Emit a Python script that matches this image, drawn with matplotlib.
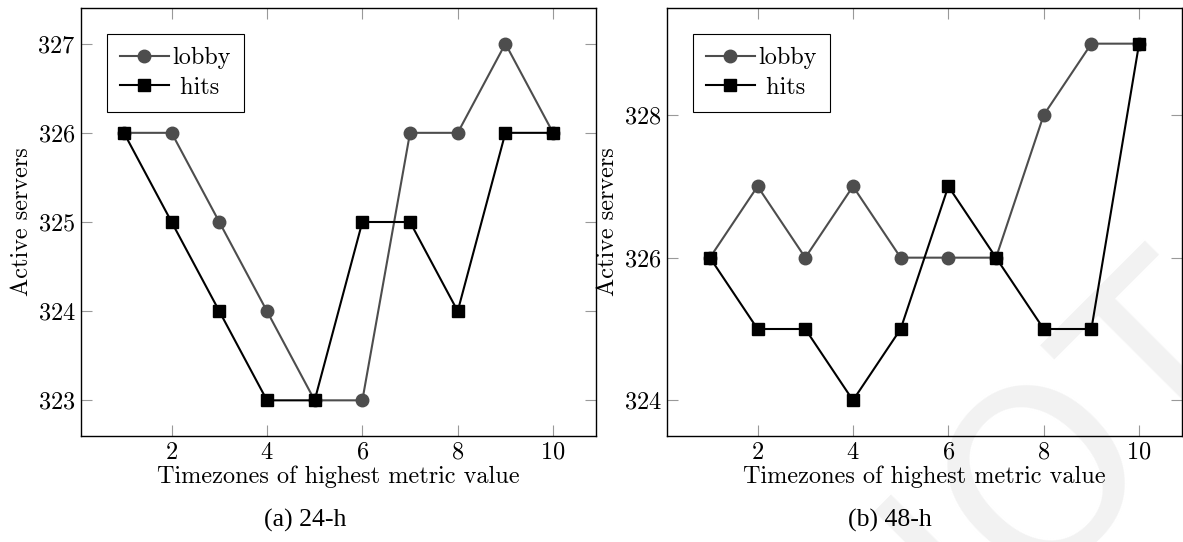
import numpy as np
import matplotlib
matplotlib.use("Agg")
import matplotlib.pyplot as plt

plt.rcParams["font.family"] = "cmr10"
plt.rcParams["mathtext.fontset"] = "cm"
plt.rcParams["axes.formatter.use_mathtext"] = True
plt.rcParams["font.size"] = 17.5

zones = [1, 2, 3, 4, 5, 6, 7, 8, 9, 10]

# 24-h window
lobby_24 = [326, 326, 325, 324, 323, 323, 326, 326, 327, 326]
hits_24 = [326, 325, 324, 323, 323, 325, 325, 324, 326, 326]

# 48-h window
lobby_48 = [326, 327, 326, 327, 326, 326, 326, 328, 329, 329]
hits_48 = [326, 325, 325, 324, 325, 327, 326, 325, 325, 329]

yticks_24 = [323, 324, 325, 326, 327]
yticks_48 = [324, 326, 328]
xticks = [2, 4, 6, 8, 10]

W, H = 1183, 542
fig = plt.figure(figsize=(W / 100, H / 100), dpi=100)

# faint watermark behind everything
fig.text(1072 / W, 1 - 445 / H, "IOT", fontsize=173, family="DejaVu Sans",
         color="#f2f2f2", rotation=45, rotation_mode="anchor",
         ha="center", va="center", zorder=-1)


def panel(left, lobby, hits, yticks, ylim, caption, cap_x):
    ax = fig.add_axes([left / W, (H - 436) / H, 515 / W, 428 / H])
    ax.patch.set_alpha(0)
    ax.plot(zones, lobby, color="#4d4d4d", lw=1.5, marker="o", ms=9,
            label="lobby")
    ax.plot(zones, hits, color="black", lw=1.5, marker="s", ms=8.5,
            label=" hits")
    ax.set_xlim(0.1, 10.9)
    ax.set_ylim(*ylim)
    ax.set_xticks(xticks)
    ax.set_yticks(yticks)
    ax.tick_params(direction="in", length=8, width=0.8, color="#999999",
                   top=True, right=True, pad=4)
    for s in ax.spines.values():
        s.set_linewidth(1.0)
    ax.set_xlabel("Timezones of highest metric value", labelpad=1)
    ax.set_ylabel("Active servers", labelpad=3)
    leg = ax.legend(loc="upper left", bbox_to_anchor=(0.05, 0.94),
                    borderaxespad=0, fancybox=False, edgecolor="black",
                    framealpha=1, handlelength=2.0, handletextpad=0.15,
                    labelspacing=0.3, borderpad=0.55)
    leg.get_frame().set_linewidth(0.8)
    fig.text(cap_x / W, 1 - 520 / H, caption,
             family=["Liberation Serif", "DejaVu Serif"],
             fontsize=18.5, ha="center", va="center")
    return ax


panel(81, lobby_24, hits_24, yticks_24, (322.6, 327.4), "(a) 24-h", 305)
panel(667, lobby_48, hits_48, yticks_48, (323.5, 329.5), "(b) 48-h", 890)

fig.savefig("out.png", dpi=100)
